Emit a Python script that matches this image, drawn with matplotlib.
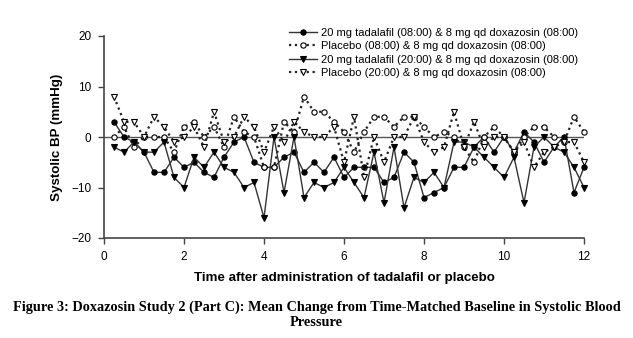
import numpy as np
import matplotlib
matplotlib.use("Agg")
import matplotlib.pyplot as plt

# ---- data ----
time_h = [0.25, 0.5, 0.75, 1.0, 1.25, 1.5, 1.75, 2.0, 2.25, 2.5, 2.75, 3.0,
          3.25, 3.5, 3.75, 4.0, 4.25, 4.5, 4.75, 5.0, 5.25, 5.5, 5.75, 6.0,
          6.25, 6.5, 6.75, 7.0, 7.25, 7.5, 7.75, 8.0, 8.25, 8.5, 8.75, 9.0,
          9.25, 9.5, 9.75, 10.0, 10.25, 10.5, 10.75, 11.0, 11.25, 11.5, 11.75, 12.0]

tad_0800 = [3, 0, -1, -3, -7, -7, -4, -6, -5, -7, -8, -4,
            -1, 0, -5, -6, -6, -4, -3, -7, -5, -7, -4, -8,
            -6, -6, -6, -9, -8, -3, -5, -12, -11, -10, -6, -6,
            -2, 0, -3, 0, -3, 1, -1, -5, -2, 0, -11, -6]

pbo_0800 = [0, 2, -2, 0, 0, 0, -3, 2, 3, 0, 2, -2,
            4, 1, 0, -6, -6, 3, 1, 8, 5, 5, 3, 1,
            -3, 1, 4, 4, 2, 4, 4, 2, 0, 1, 0, -2,
            -5, 0, 2, 0, -3, 0, 2, 2, 0, -1, 4, 1]

tad_2000 = [-2, -3, -1, -3, -3, -1, -8, -10, -4, -6, -3, -6,
            -7, -10, -9, -16, 0, -11, 0, -12, -9, -10, -9, -6,
            -9, -12, -3, -13, -2, -14, -8, -9, -7, -10, -1, -1,
            -2, -4, -6, -8, -4, -13, -2, 0, -2, -3, -6, -10]

pbo_2000 = [8, 3, 3, 0, 4, 2, -1, 0, 2, -2, 5, -1,
            0, 4, 2, -3, 2, -1, 3, 1, 0, 0, 2, -5,
            4, -8, 0, -5, 0, 0, 4, -1, -3, -2, 5, -2,
            3, -2, 0, 0, -3, -1, -6, -3, -2, -1, -1, -5]

labels = ["20 mg tadalafil (08:00) & 8 mg qd doxazosin (08:00)",
          "Placebo (08:00) & 8 mg qd doxazosin (08:00)",
          "20 mg tadalafil (20:00) & 8 mg qd doxazosin (08:00)",
          "Placebo (20:00) & 8 mg qd doxazosin (08:00)"]

x_ticks = [0, 2, 4, 6, 8, 10, 12]
y_ticks = [-20, -10, 0, 10, 20]

caption1 = "Figure 3: Doxazosin Study 2 (Part C): Mean Change from Time-Matched Baseline in Systolic Blood"
caption2 = "Pressure"

# ---- figure ----
W, H = 633, 338
fig = plt.figure(figsize=(W / 100, H / 100), dpi=100)
fig.patch.set_facecolor("white")
ax = fig.add_axes([104 / W, 1 - 238 / H, 480 / W, 202 / H])

sans = "Liberation Sans"
lc = "#333333"

ax.axhline(0, color="#555555", lw=1.0, zorder=1)

styles = [
    dict(ls="-", marker="o", mfc="black", mec="black", lw=1.0, color=lc),
    dict(ls=":", marker="o", mfc="white", mec="black", lw=1.6, color="#222222"),
    dict(ls="-", marker="v", mfc="black", mec="black", lw=1.0, color=lc),
    dict(ls=":", marker="v", mfc="white", mec="black", lw=1.6, color="#222222"),
]
series = [tad_0800, pbo_0800, tad_2000, pbo_2000]
for vals, st, lab in zip(series, styles, labels):
    ax.plot(time_h, vals, ls=st["ls"], lw=st["lw"], color=st["color"],
            marker=st["marker"], markersize=3.8, markerfacecolor=st["mfc"],
            markeredgecolor=st["mec"], markeredgewidth=0.8, label=lab,
            clip_on=False, zorder=3)

ax.set_xlim(0, 12)
ax.set_ylim(-20, 20)
ax.set_xticks(x_ticks)
ax.set_yticks(y_ticks)
ax.spines["top"].set_visible(False)
ax.spines["right"].set_visible(False)
for s in ("left", "bottom"):
    ax.spines[s].set_color("#444444")
    ax.spines[s].set_linewidth(1.2)
ax.tick_params(direction="out", length=4, width=1.0, color="#444444",
               labelsize=8.5, pad=5)
for t in ax.get_xticklabels() + ax.get_yticklabels():
    t.set_fontfamily(sans)

ax.set_xlabel("Time after administration of tadalafil or placebo",
              fontfamily=sans, fontweight="bold", fontsize=9.6, labelpad=7)
ax.set_ylabel("Systolic BP (mmHg)", fontfamily=sans, fontweight="bold",
              fontsize=9.6, labelpad=6)

leg = ax.legend(loc="upper left", bbox_to_anchor=(289 / W, 1 - 28 / H),
                bbox_transform=fig.transFigure, frameon=False,
                prop=dict(family=sans, size=8.0), handlelength=2.5,
                handletextpad=0.4, labelspacing=0.3, borderpad=0,
                borderaxespad=0)

fig.text(0.5, 1 - 307 / H, caption1, ha="center", va="center",
         fontfamily="Liberation Serif", fontweight="bold", fontsize=10.3)
fig.text(0.5, 1 - 323 / H, caption2, ha="center", va="center",
         fontfamily="Liberation Serif", fontweight="bold", fontsize=10.3)

fig.savefig("out.png", dpi=100, facecolor="white")
